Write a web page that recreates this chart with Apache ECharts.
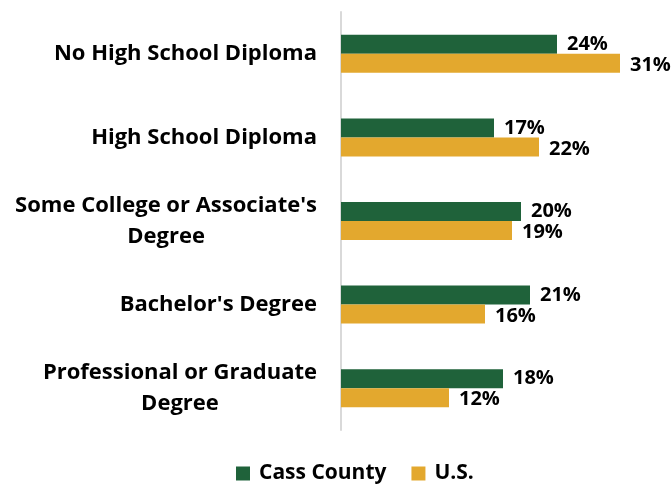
<!DOCTYPE html>
<html>
<head>
<meta charset="utf-8">
<script src="https://cdn.jsdelivr.net/npm/echarts@6/dist/echarts.min.js"></script>
<style>
  html, body { margin: 0; padding: 0; background: #fff; }
  #main { width: 671px; height: 485px; }
</style>
</head>
<body>
<div id="main"></div>
<script>
var categories = [
  'No High School Diploma',
  'High School Diploma',
  "Some College or Associate's\nDegree",
  "Bachelor's Degree",
  'Professional or Graduate\nDegree'
];
var cassCounty = [24, 17, 20, 21, 18];
var us = [31, 22, 19, 16, 12];

var FONT = 'Open Sans';

var myChart = echarts.init(document.getElementById('main'));
myChart.setOption({
  animation: false,
  textStyle: { fontFamily: FONT },
  grid: { left: 341, right: 6, top: 12, bottom: 55, containLabel: false },
  legend: {
    left: 231,
    bottom: -4,
    itemWidth: 14,
    itemHeight: 14,
    itemGap: 25,
    icon: 'rect',
    textStyle: { fontFamily: FONT, fontWeight: 'bold', fontSize: 21, color: '#000', padding: [0, 0, 0, 4] },
    data: ['Cass County', 'U.S.']
  },
  xAxis: {
    type: 'value',
    min: 0,
    max: 36,
    show: false
  },
  yAxis: {
    type: 'category',
    inverse: true,
    data: categories,
    axisLine: { show: true, lineStyle: { color: '#d9d9d9', width: 2 } },
    axisTick: { show: false },
    axisLabel: {
      margin: 24,
      color: '#000',
      fontFamily: FONT,
      fontWeight: 'bold',
      fontSize: 22,
      lineHeight: 31,
      formatter: function (v) {
        return v.split('\n').map(function (s) { return '{c|' + s + '}'; }).join('\n');
      },
      rich: {
        c: { align: 'center', fontFamily: FONT, fontWeight: 'bold', fontSize: 22, lineHeight: 31, color: '#000' }
      }
    }
  },
  series: [
    {
      name: 'Cass County',
      type: 'bar',
      data: cassCounty,
      barWidth: 19,
      barGap: '0%',
      itemStyle: { color: '#1f623a' },
      label: {
        show: true, position: 'right', distance: 10,
        formatter: '{c}%', color: '#000', fontFamily: FONT, fontWeight: 'bold', fontSize: 20
      }
    },
    {
      name: 'U.S.',
      type: 'bar',
      data: us,
      barWidth: 19,
      itemStyle: { color: '#e3a82e' },
      label: {
        show: true, position: 'right', distance: 10, offset: [0, 2],
        formatter: '{c}%', color: '#000', fontFamily: FONT, fontWeight: 'bold', fontSize: 20
      }
    }
  ]
});
</script>
</body>
</html>
